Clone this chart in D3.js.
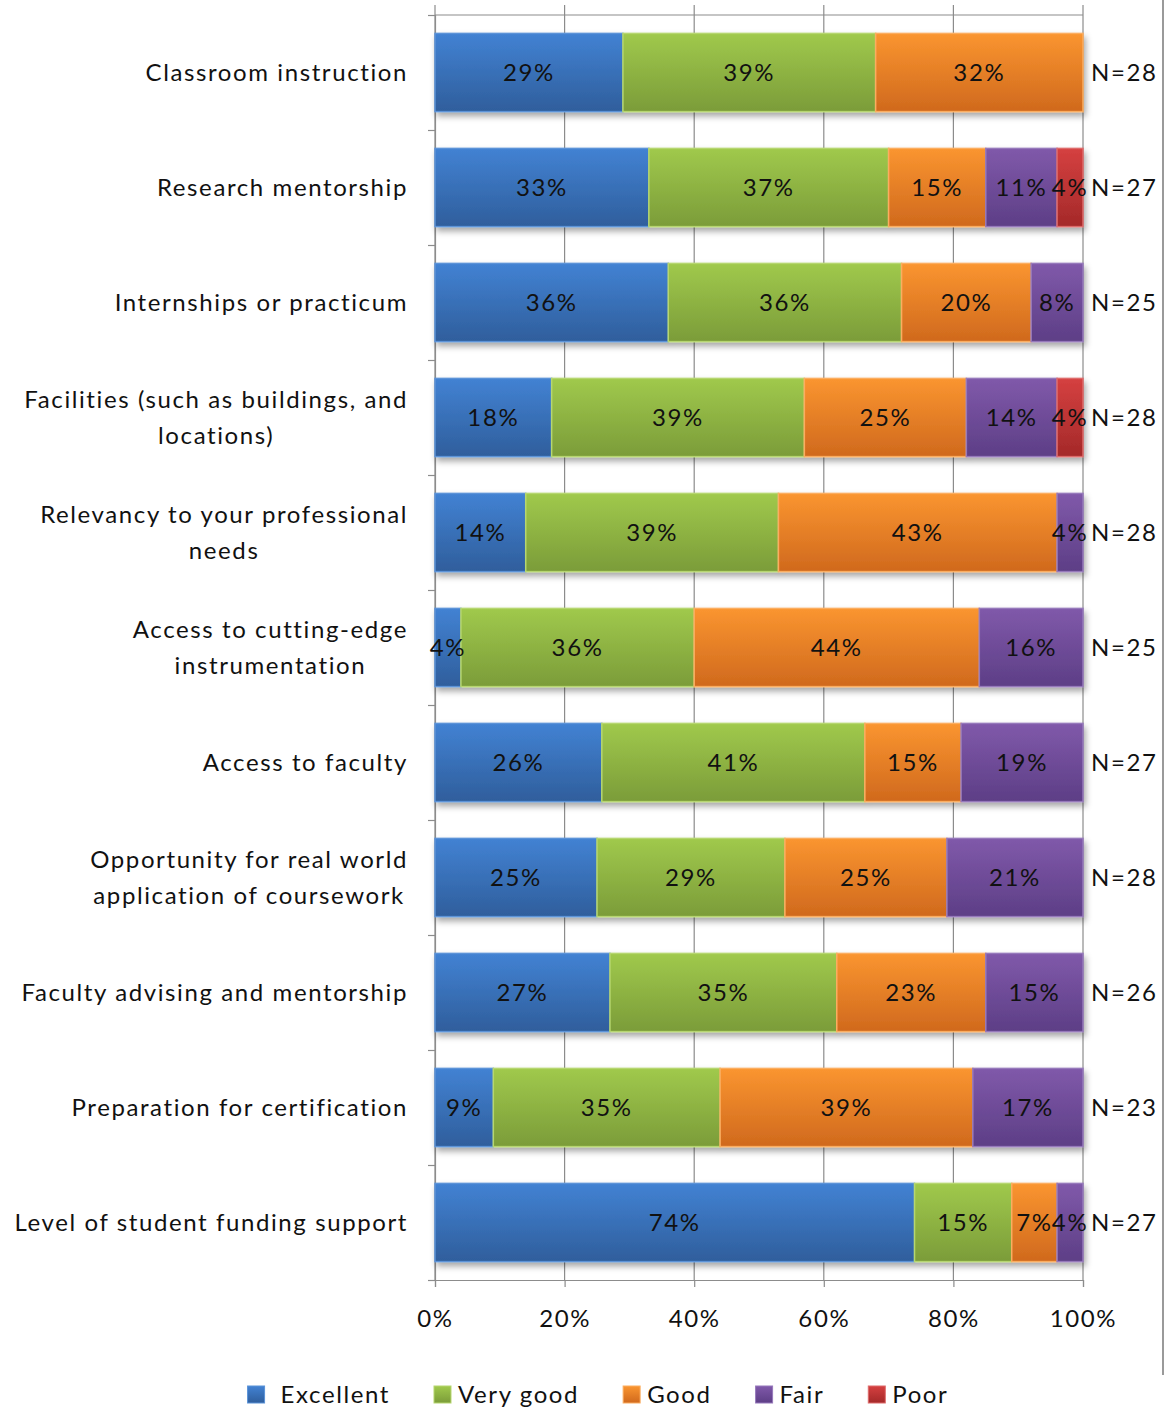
<!DOCTYPE html>
<html lang="en">
<head>
<meta charset="utf-8">
<title>Program ratings</title>
<script src="https://cdn.jsdelivr.net/npm/d3@7"></script>
<style>
  body { margin: 0; background: #fff; }
  text { font-family: Lato, "Open Sans", sans-serif; fill: #111; letter-spacing: 1.6px; }
</style>
</head>
<body>
<div id="chart"></div>
<script>
// category labels (\n = line break, as in the original)
var categories = [
  "Classroom instruction",
  "Research mentorship",
  "Internships or practicum",
  "Facilities (such as buildings, and\nlocations)",
  "Relevancy to your professional\nneeds",
  "Access to cutting-edge\ninstrumentation",
  "Access to faculty",
  "Opportunity for real world\napplication of coursework",
  "Faculty advising and mentorship",
  "Preparation for certification",
  "Level of student funding support"
];

// percentages as labelled on the bars
var excellent = [29, 33, 36, 18, 14, 4, 26, 25, 27, 9, 74];
var veryGood  = [39, 37, 36, 39, 39, 36, 41, 29, 35, 35, 15];
var good      = [32, 15, 20, 25, 43, 44, 15, 25, 23, 39, 7];
var fair      = [0, 11, 8, 14, 4, 16, 19, 21, 15, 17, 4];
var poor      = [0, 4, 0, 4, 0, 0, 0, 0, 0, 0, 0];
var nCounts   = [28, 27, 25, 28, 28, 25, 27, 28, 26, 23, 27];

var seriesNames = ["Excellent", "Very good", "Good", "Fair", "Poor"];
var xTicks = [0, 20, 40, 60, 80, 100];

var colors = {
  "Excellent": { top: "#4282d3", bottom: "#2f5e9c", edge: "#5b93d8" },
  "Very good": { top: "#a0c94c", bottom: "#7b9c39", edge: "#b6d66f" },
  "Good":      { top: "#fa9530", bottom: "#d0691d", edge: "#fbad60" },
  "Fair":      { top: "#8059aa", bottom: "#5d3e86", edge: "#9679bb" },
  "Poor":      { top: "#d54040", bottom: "#a42929", edge: "#de6b6b" }
};

var width = 1166, height = 1411;
var plotLeft = 435, plotRight = 1083, plotTop = 15, plotBottom = 1280;

var rows = categories.map(function (c, i) {
  var vals = [excellent[i], veryGood[i], good[i], fair[i], poor[i]];
  var total = d3.sum(vals);
  var row = { category: c, n: nCounts[i] };
  seriesNames.forEach(function (s, j) {
    row[s] = vals[j] / total * 100;
    row[s + "_label"] = vals[j];
  });
  return row;
});

var stack = d3.stack().keys(seriesNames)(rows);

var svg = d3.select("#chart").append("svg")
  .attr("width", width)
  .attr("height", height);

var defs = svg.append("defs");
seriesNames.forEach(function (s, i) {
  var g = defs.append("linearGradient")
    .attr("id", "grad" + i)
    .attr("x1", 0).attr("y1", 0).attr("x2", 0).attr("y2", 1);
  g.append("stop").attr("offset", "0%").attr("stop-color", colors[s].top);
  g.append("stop").attr("offset", "100%").attr("stop-color", colors[s].bottom);
});
defs.append("filter")
  .attr("id", "shadow")
  .attr("x", "-5%").attr("y", "-20%").attr("width", "110%").attr("height", "150%")
  .append("feDropShadow")
  .attr("dx", 2).attr("dy", 4)
  .attr("stdDeviation", 3)
  .attr("flood-color", "#000")
  .attr("flood-opacity", 0.35);

var x = d3.scaleLinear().domain([0, 100]).range([plotLeft, plotRight]);

var y = d3.scaleBand()
  .domain(categories)
  .range([plotTop, plotBottom])
  .paddingInner(0.32)
  .paddingOuter(0.16);

// band boundaries for the left axis ticks
var yEdge = d3.scaleLinear().domain([0, categories.length]).range([plotTop, plotBottom]);

// gridlines
svg.append("g")
  .selectAll("line")
  .data(xTicks)
  .join("line")
  .attr("x1", function (d) { return x(d); })
  .attr("x2", function (d) { return x(d); })
  .attr("y1", 5)
  .attr("y2", plotBottom)
  .attr("stroke", "#8c8c8c")
  .attr("stroke-width", 1.2);

svg.append("line")
  .attr("x1", plotLeft).attr("x2", plotRight)
  .attr("y1", plotTop).attr("y2", plotTop)
  .attr("stroke", "#8c8c8c")
  .attr("stroke-width", 1.2);

// left axis
var yAxis = svg.append("g")
  .attr("transform", "translate(" + plotLeft + ",0)")
  .call(d3.axisLeft(yEdge).ticks(categories.length).tickSize(7).tickFormat(""));
yAxis.selectAll("line, path").attr("stroke", "#8c8c8c").attr("stroke-width", 1.2);

// bottom axis
var xAxis = svg.append("g")
  .attr("transform", "translate(0," + plotBottom + ")")
  .call(d3.axisBottom(x).tickValues(xTicks).tickSize(7).tickFormat(function (d) { return d + "%"; }));
xAxis.selectAll("line, path").attr("stroke", "#8c8c8c").attr("stroke-width", 1.2);
xAxis.selectAll("text")
  .attr("y", 30)
  .attr("font-size", 24)
  .attr("fill", "#111")
  .style("font-family", "Lato, 'Open Sans', sans-serif");

// bars
var rowGroups = svg.append("g").attr("class", "bars")
  .selectAll("g")
  .data(rows)
  .join("g")
  .attr("filter", "url(#shadow)");

rowGroups.each(function (row, i) {
  var g = d3.select(this);
  stack.forEach(function (layer, j) {
    var seg = layer[i];
    if (seg[1] - seg[0] <= 0) return;
    g.append("rect")
      .attr("x", x(seg[0]))
      .attr("width", x(seg[1]) - x(seg[0]))
      .attr("y", y(row.category))
      .attr("height", y.bandwidth())
      .attr("fill", "url(#grad" + j + ")")
      .attr("stroke", colors[layer.key].edge)
      .attr("stroke-width", 1.5);
  });
});

// value labels
var labels = svg.append("g").attr("class", "labels");
stack.forEach(function (layer) {
  layer.forEach(function (seg, i) {
    var lab = rows[i][layer.key + "_label"];
    if (!lab) return;
    labels.append("text")
      .attr("x", x((seg[0] + seg[1]) / 2))
      .attr("y", y(rows[i].category) + y.bandwidth() / 2)
      .attr("dy", "0.36em")
      .attr("text-anchor", "middle")
      .attr("font-size", 24)
      .text(lab + "%");
  });
});

// N labels
svg.append("g")
  .selectAll("text")
  .data(rows)
  .join("text")
  .attr("x", 1091)
  .attr("y", function (d) { return y(d.category) + y.bandwidth() / 2; })
  .attr("dy", "0.36em")
  .attr("font-size", 24)
  .text(function (d) { return "N=" + d.n; });

// category labels: block right-aligned, lines centred within block
var catG = svg.append("g");
rows.forEach(function (row) {
  var lines = row.category.split("\n");
  var cy = y(row.category) + y.bandwidth() / 2;
  var t = catG.append("text")
    .attr("text-anchor", "middle")
    .attr("font-size", 24);
  lines.forEach(function (ln, k) {
    t.append("tspan")
      .attr("y", cy + (k - (lines.length - 1) / 2) * 36)
      .attr("dy", "0.36em")
      .text(ln);
  });
  var maxW = d3.max(t.selectAll("tspan").nodes(), function (n) { return n.getComputedTextLength(); });
  t.selectAll("tspan").attr("x", 408 - maxW / 2);
});

// legend
var legend = svg.append("g");
var lx = 0;
seriesNames.forEach(function (s, i) {
  var item = legend.append("g").attr("transform", "translate(" + lx + ",0)");
  item.append("rect")
    .attr("x", 0).attr("y", 1386)
    .attr("width", 17).attr("height", 17)
    .attr("fill", "url(#grad" + i + ")")
    .attr("stroke", colors[s].edge)
    .attr("stroke-width", 1);
  var t = item.append("text")
    .attr("x", i === 0 ? 33 : 24)
    .attr("y", 1394)
    .attr("dy", "0.36em")
    .attr("font-size", 24)
    .text(s);
  lx += (i === 0 ? 33 : 24) + t.node().getComputedTextLength() + 44;
});
var legendW = lx - 44;
legend.attr("transform", "translate(" + (598 - legendW / 2) + ",0)");

// outer frame edge on the right
svg.append("line")
  .attr("x1", 1163).attr("x2", 1163)
  .attr("y1", 0).attr("y2", 1375)
  .attr("stroke", "#9a9a9a")
  .attr("stroke-width", 2);
</script>
</body>
</html>
